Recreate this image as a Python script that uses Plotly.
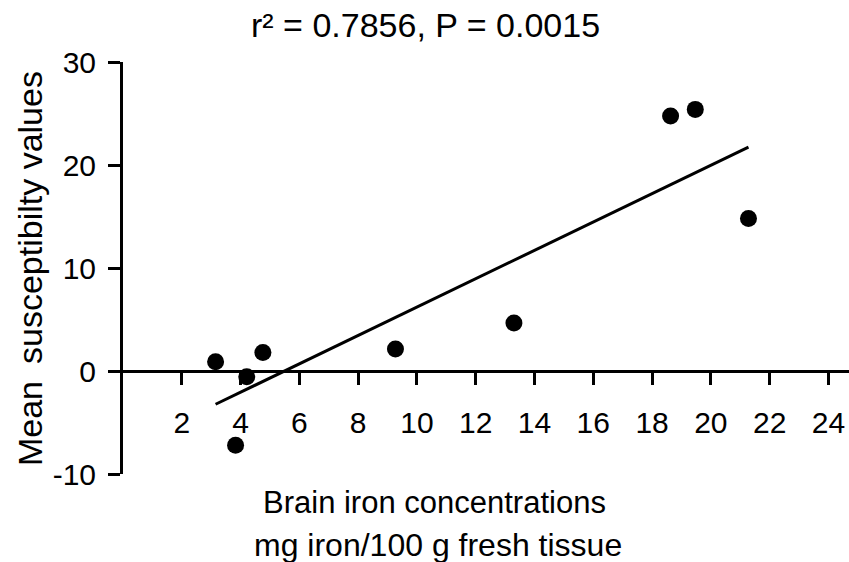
import numpy as np
import plotly.graph_objects as go

# Data
iron = [3.15, 4.21, 4.76, 3.83, 9.27, 13.3, 18.63, 19.47, 21.28]
suscept = [0.9, -0.55, 1.8, -7.2, 2.14, 4.66, 24.76, 25.4, 14.8]
x_ticks = [2, 4, 6, 8, 10, 12, 14, 16, 18, 20, 22, 24]
y_ticks = [-10, 0, 10, 20, 30]

slope, intercept = np.polyfit(iron, suscept, 1)
fit_x = [min(iron), max(iron)]
fit_y = [slope * v + intercept for v in fit_x]

FONT = "Liberation Sans, Arial, sans-serif"

fig = go.Figure()
fig.add_trace(go.Scatter(x=fit_x, y=fit_y, mode="lines",
                         line=dict(color="black", width=3), showlegend=False,
                         cliponaxis=False))
fig.add_trace(go.Scatter(x=iron, y=suscept, mode="markers",
                         marker=dict(color="black", size=17), showlegend=False,
                         cliponaxis=False))

W, H = 849, 562
L, R, T, B = 123, 0, 62, 88

fig.update_layout(
    width=W, height=H,
    margin=dict(l=L, r=R, t=T, b=B, pad=0),
    paper_bgcolor="white", plot_bgcolor="white",
    font=dict(family=FONT, size=30, color="black"),
    xaxis=dict(range=[0, 24.7], anchor="free", position=0.25,
               showline=True, linecolor="black", linewidth=3,
               ticks="outside", ticklen=12, tickwidth=3, tickcolor="black",
               tickvals=x_ticks, ticktext=[str(v) for v in x_ticks],
               showgrid=False, zeroline=False,
               tickfont=dict(size=30, family=FONT), ticklabelstandoff=12),
    yaxis=dict(range=[-10, 30],
               showline=True, linecolor="black", linewidth=3,
               ticks="outside", ticklen=12, tickwidth=3, tickcolor="black",
               tickvals=y_ticks, ticktext=[str(v) for v in y_ticks],
               showgrid=False, zeroline=False,
               tickfont=dict(size=30, family=FONT), ticklabelstandoff=6),
    annotations=[
        dict(text="r² = 0.7856, P = 0.0015", xref="paper", yref="paper",
             x=0.4167, y=1.0898, xanchor="center", yanchor="middle",
             showarrow=False, font=dict(size=34, family=FONT)),
        dict(text="Brain iron concentrations", xref="paper", yref="paper",
             x=0.4284, y=-0.068, xanchor="center", yanchor="middle",
             showarrow=False, font=dict(size=31, family=FONT)),
        dict(text="mg iron/100 g fresh tissue", xref="paper", yref="paper",
             x=0.4339, y=-0.1723, xanchor="center", yanchor="middle",
             showarrow=False, font=dict(size=32, family=FONT)),
        dict(text="Mean\u2002susceptibilty values", xref="paper", yref="paper",
             x=-0.128, y=0.4976, xanchor="center", yanchor="middle",
             textangle=-90, showarrow=False, font=dict(size=34, family=FONT)),
    ],
)

fig.write_html("out.html",
               config={"displayModeBar": False},
               post_script="document.body.style.margin='0px';"
                           "document.body.style.overflow='hidden';")
